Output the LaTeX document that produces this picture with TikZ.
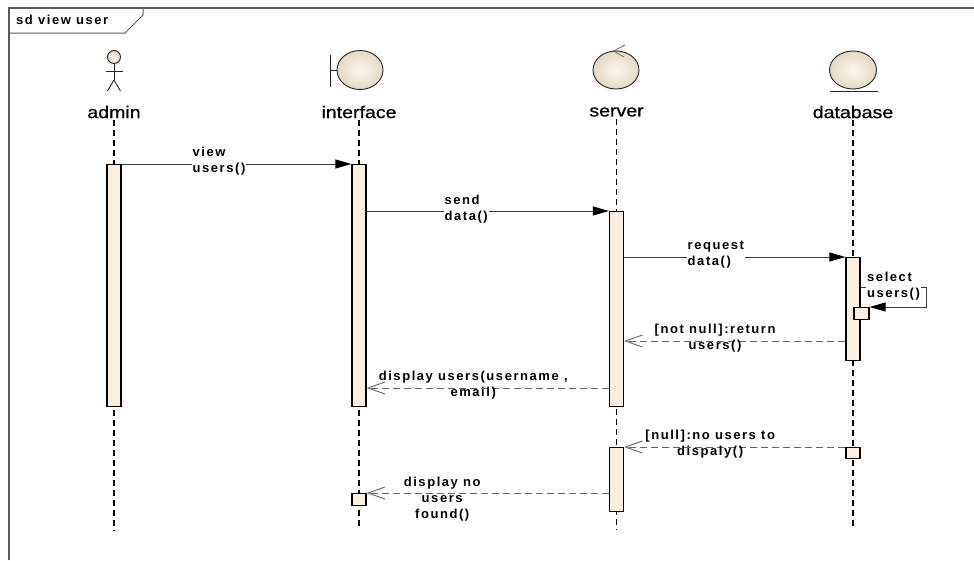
\documentclass[tikz,border=0pt]{standalone}
\usepackage{fontspec}
\setmainfont{Liberation Sans}
\newfontfamily\headfont[FakeStretch=1.15,FakeBold=0.8]{Liberation Sans}
\newfontfamily\msgfont[LetterSpace=12]{Liberation Sans Bold}
\usetikzlibrary{arrows.meta,calc,shapes.geometric}
\definecolor{actfill}{RGB}{250,239,224}
\definecolor{iconin}{RGB}{252,248,240}
\definecolor{iconout}{RGB}{228,216,196}
\definecolor{msgline}{RGB}{60,60,60}
\definecolor{retline}{RGB}{100,100,100}
\definecolor{framecol}{RGB}{90,90,90}
\tikzset{
  act/.style={draw=black, line width=1.2pt, fill=actfill, minimum width=14pt, inner sep=0pt, anchor=north},
  lifeline/.style={draw=black, line width=1.3pt, dash pattern=on 6pt off 4pt},
  sync/.style={draw=msgline, line width=0.9pt, -{Triangle[length=16pt,width=9pt,color=black]}},
  ret/.style={draw=retline, line width=0.9pt, dash pattern=on 7pt off 4pt, -{Straight Barb[length=17pt,width=12pt,line width=0.9pt]}},
  msglabel/.style={font=\msgfont\fontsize{13}{16}\selectfont, inner sep=1pt, align=center, text=black},
  head/.style={font=\headfont\fontsize{17}{20}\selectfont, inner sep=2pt},
  icon/.style={draw=black!85, line width=0.9pt},
  iconshape/.style={icon, ellipse, inner sep=0pt, inner color=iconin, outer color=iconout},
  framestyle/.style={draw=framecol, line width=1.3pt},
}
\begin{document}
\begin{tikzpicture}[x=1pt,y=-1pt]
\useasboundingbox (0,0) rectangle (974,560);
\fill[white] (0,0) rectangle (974,560);
% frame
\draw[framestyle] (9,560) -- (9,8) -- (974,8);
\draw[framestyle, line width=1pt] (9,33) -- (125,33) -- (143,15) -- (143,8);
\node[msglabel, anchor=west] (title) at (15,20) {sd view user};

% icons
\node[iconshape, minimum width=13pt, minimum height=13pt] (actorhead) at (114,57) {};
\draw[icon] (actorhead.south) -- (114,80) coordinate (hip);
\draw[icon] (105.5,71) -- (122.5,71);
\draw[icon] (hip) -- (107.5,91);
\draw[icon] (hip) -- (120.5,91);

\node[iconshape, minimum width=46pt, minimum height=39pt] (bnd) at (360,70) {};
\draw[icon] (330,55) -- (330,87);
\draw[icon] (330,70) -- (bnd.west);

\node[iconshape, minimum width=46pt, minimum height=38pt] (ctl) at (616,70) {};
\draw[draw=black!60, line width=0.8pt] (625,45) -- (613.5,51) -- (624,57);

\node[iconshape, minimum width=47pt, minimum height=38pt] (ent) at (853,70) {};
\draw[icon] (830,91) -- (878,91);

% heads
\node[head] (adminL) at (114,112) {admin};
\node[head] (interfaceL) at (359,112) {interface};
\node[head] (serverL) at (616.5,112) {server};
\node[head] (databaseL) at (853,112) {database};

% lifelines
\coordinate (adminE) at (114,531);
\coordinate (interfaceE) at (359,529);
\coordinate (serverE) at (616.5,529);
\coordinate (databaseE) at (853,527);
\draw[lifeline] (adminL) -- (adminE);
\draw[lifeline] (interfaceL) -- (interfaceE);
\draw[lifeline] (serverL) -- (serverE);
\draw[lifeline] (databaseL) -- (databaseE);

% activations
\node[act, minimum height=242pt] (aA) at (114,164) {};
\node[act, minimum height=242pt] (aI) at (359,164) {};
\node[act, minimum height=195pt] (aS1) at (616.5,211) {};
\node[act, minimum height=64pt] (aS2) at (616.5,447) {};
\node[act, minimum height=103pt] (aD) at (853,257) {};
\node[act, minimum width=15pt, minimum height=12pt] (aDs) at (861.5,307) {};
\node[act, minimum height=11pt] (aD2) at (853,447) {};
\node[act, minimum height=12pt] (aI2) at (359,493) {};

% messages
\draw[sync] (aA.north east) -- (aI.north west)
  node[msglabel, pos=0.303, anchor=west, align=left, fill=white, yshift=2.5pt] (m1) {view\\users()};
\draw[sync] (aI.east |- aS1.north) -- (aS1.north west)
  node[msglabel, pos=0.316, anchor=west, align=left, fill=white, yshift=2pt] (m2) {send\\data()};
\draw[sync] (aS1.east |- aD.north) -- (aD.north west)
  node[msglabel, pos=0.281, anchor=west, align=left, fill=white, yshift=2pt] (m3) {request\\data()};
\draw[sync] ([yshift=-30pt]aD.north east) -- ++(66,0) |- (aDs.north east);
\node[msglabel, anchor=west, align=left, fill=white] (m4) at (866,286) {select\\users()};

\coordinate (r1) at ([yshift=-84pt]aD.north west);
\draw[ret] (r1) -- (r1 -| aS1.east)
  node[msglabel, pos=0.589, yshift=2.5pt] (m5) {[not null]:return\\users()};
\coordinate (r2) at ([yshift=-177pt]aS1.north west);
\draw[ret] (r2) -- (r2 -| aI.east)
  node[msglabel, pos=0.56, yshift=3pt] (m6) {display users(username ,\\email)};
\draw[ret] (aD2.north west) -- (aS2.north east)
  node[msglabel, pos=0.611, yshift=3pt] (m7) {[null]:no users to\\dispaly()};
\draw[ret] (aI2.north east -| aS2.west) -- (aI2.north east)
  node[msglabel, pos=0.688, yshift=-6pt] (m8) {display no\\users\\found()};
\end{tikzpicture}
\end{document}
